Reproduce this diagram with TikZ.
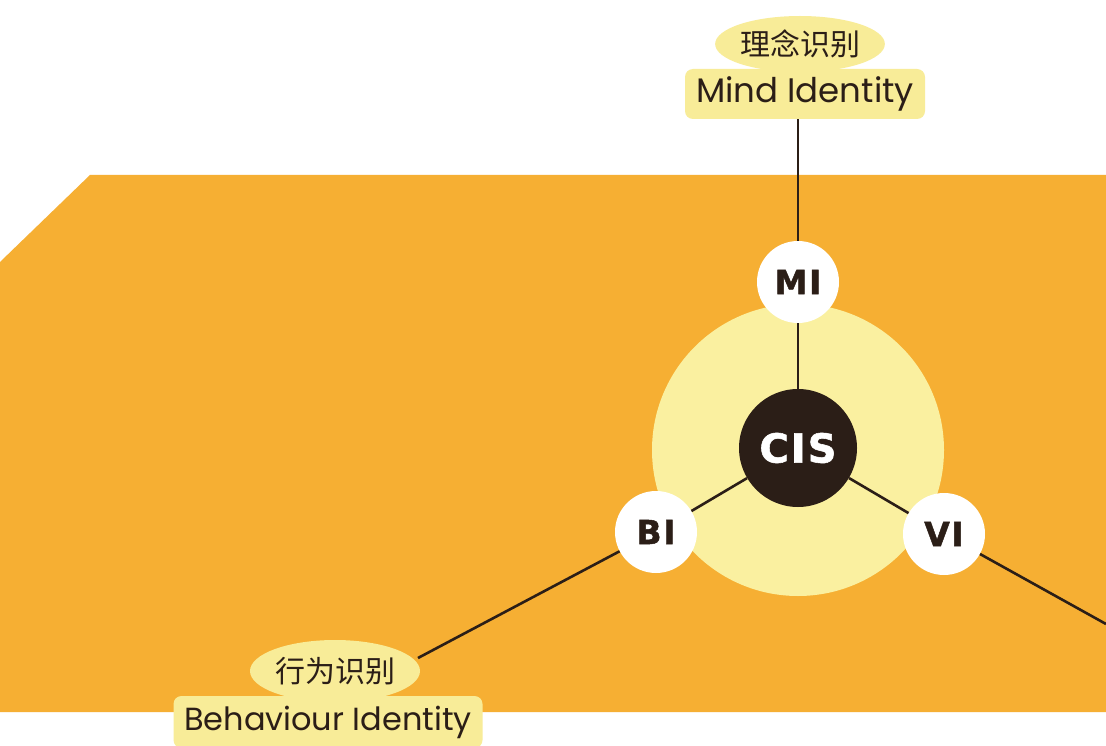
\documentclass[tikz,border=0pt]{standalone}
\usepackage{fontspec}
\setmainfont{Poppins}
\newfontfamily\cjk{Noto Sans CJK SC}
\newfontfamily\heavy{DejaVu Sans}[LetterSpace=5,FakeBold=1.4]
\usetikzlibrary{shapes.geometric}
\definecolor{bgorange}{HTML}{F6AF33}
\definecolor{paleyel}{HTML}{FAF0A0}
\definecolor{labyel}{HTML}{F8EC98}
\definecolor{ink}{HTML}{2B1E17}
\tikzset{
  small circ/.style={circle, fill=white, minimum size=82pt, inner sep=0pt,
    font=\heavy\bfseries\fontsize{33}{33}\selectfont, text=ink},
  cis circ/.style={circle, fill=ink, minimum size=118pt, inner sep=0pt,
    font=\heavy\bfseries\fontsize{40}{40}\selectfont, text=white},
  cn label/.style={ellipse, fill=labyel, inner sep=0pt,
    font=\cjk\fontsize{30}{30}\selectfont, text=ink},
  en label/.style={rectangle, rounded corners=8pt, fill=labyel, inner sep=0pt,
    font=\fontsize{34}{34}\selectfont, text=ink},
  link/.style={draw=ink, line width=2.6pt}
}
\begin{document}
\begin{tikzpicture}[x=1pt,y=-1pt]
\useasboundingbox (0,0) rectangle (1106,746);
\fill[white] (0,0) rectangle (1106,746);
% orange panel
\fill[bgorange] (90,175) -- (1106,175) -- (1106,712) -- (0,712) -- (0,262) -- cycle;
% pale halo
\fill[paleyel] (798,450) circle[radius=146];
% labels
\node[cn label, minimum width=156pt, minimum height=56pt] (MIcn) at (800,44) {理念识别};
\node[en label, minimum width=240pt, minimum height=50pt] (MIen) at (805,94) {Mind Identity};
\node[cn label, minimum width=170pt, minimum height=62pt] (BIcn) at (335,671) {行为识别};
\node[en label, minimum width=309pt, minimum height=52pt, font=\fontsize{32}{32}\selectfont] (BIen) at (328,722) {Behaviour Identity};
% circles
\node[cis circ] (CIS) at (798,448) {CIS};
\node[small circ] (MI) at (798,282) {MI};
\node[small circ] (BI) at (656,532) {BI};
\node[small circ] (VI) at (944,534) {VI};
% free ends
\coordinate (BIend) at (418,658);
\coordinate (VIend) at (1106,624);
% connectors
\draw[link] (MI |- MIen.south) -- (MI);
\draw[link] (MI) -- (CIS);
\draw[link] (CIS) -- (BI);
\draw[link] (CIS) -- (VI);
\draw[link] (BI) -- (BIend);
\draw[link] (VI) -- (VIend);
\end{tikzpicture}
\end{document}
